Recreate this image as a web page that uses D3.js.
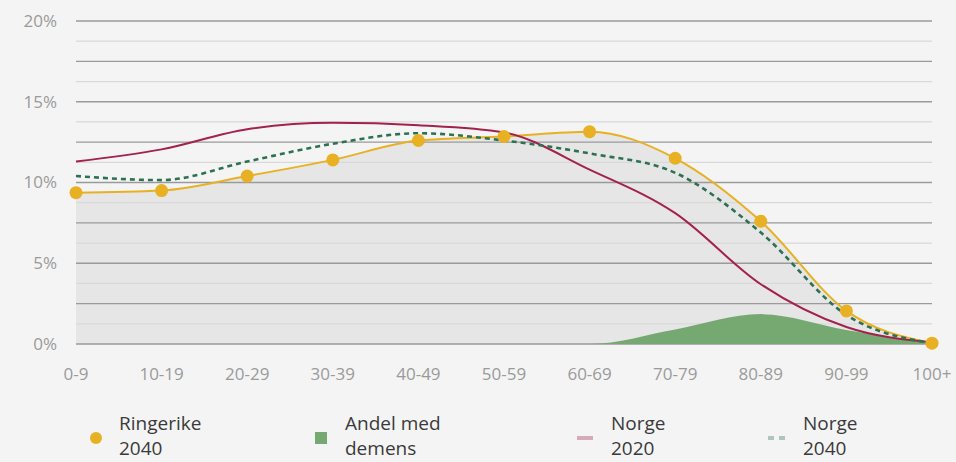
<!DOCTYPE html>
<html>
<head>
<meta charset="utf-8">
<script src="https://cdn.jsdelivr.net/npm/d3@7.9.0/dist/d3.min.js"></script>
<style>
  html, body { margin: 0; padding: 0; background: #f4f4f4; }
  svg { display: block; font-family: "Open Sans", sans-serif; }
</style>
</head>
<body>
<svg id="chart" width="956" height="462"></svg>
<script>
// Age groups and shares (%)
const categories = ['0-9', '10-19', '20-29', '30-39', '40-49', '50-59', '60-69', '70-79', '80-89', '90-99', '100+'];
const ringerike2040 = [9.37, 9.5, 10.4, 11.4, 12.6, 12.85, 13.15, 11.5, 7.6, 2.05, 0.05];
const norge2020 = [11.3, 12.05, 13.3, 13.7, 13.55, 13.1, 10.8, 8.1, 3.7, 1.05, 0.1];
const norge2040 = [10.4, 10.15, 11.3, 12.4, 13.05, 12.6, 11.8, 10.6, 6.9, 1.8, 0.05];
const demens = [0, 0, 0, 0, 0, 0, 0, 0.9, 1.85, 0.87, 0];
const yTicks = [0, 5, 10, 15, 20];
const legendItems = [
  { label: ['Ringerike', '2040'], type: 'dot' },
  { label: ['Andel med', 'demens'], type: 'square' },
  { label: ['Norge', '2020'], type: 'line' },
  { label: ['Norge', '2040'], type: 'dash' }
];

const colors = {
  ringerike: '#e8b023',
  norge2020: '#a2224c',
  norge2040: '#2c7252',
  demens: '#76a871',
  fill: '#e6e6e6'
};

const svg = d3.select('#chart');

const x = d3.scalePoint()
  .domain(categories)
  .range([76, 932]);

const y = d3.scaleLinear()
  .domain([0, 20])
  .range([344, 21]);

const xv = (d, i) => x(categories[i]);

// grey area under Ringerike
const area = d3.area()
  .x(xv)
  .y0(y(0))
  .y1(d => y(d))
  .curve(d3.curveMonotoneX);

svg.append('path')
  .attr('d', area(ringerike2040))
  .attr('fill', colors.fill);

// gridlines: dark every 2.5%, light in between
const gridVals = d3.range(0, 20.01, 1.25);
svg.append('g')
  .selectAll('line')
  .data(gridVals)
  .join('line')
  .attr('x1', 76)
  .attr('x2', 932)
  .attr('y1', d => y(d))
  .attr('y2', d => y(d))
  .attr('stroke', d => (Math.round(d * 100) % 250 === 0) ? '#9a9a9a' : '#d9d9d9')
  .attr('stroke-width', d => (Math.round(d * 100) % 250 === 0) ? 1.4 : 1.2);

// y labels
svg.append('g')
  .selectAll('text')
  .data(yTicks)
  .join('text')
  .attr('x', 57)
  .attr('y', d => y(d))
  .attr('dy', '0.35em')
  .attr('text-anchor', 'end')
  .attr('fill', '#9a9a9a')
  .attr('font-size', 17)
  .text(d => d + '%');

// x labels
svg.append('g')
  .selectAll('text')
  .data(categories)
  .join('text')
  .attr('x', d => x(d))
  .attr('y', 380)
  .attr('text-anchor', 'middle')
  .attr('fill', '#9a9a9a')
  .attr('font-size', 17)
  .text(d => d);

// dementia area
svg.append('path')
  .attr('d', area(demens))
  .attr('fill', colors.demens);

const line = d3.line()
  .x(xv)
  .y(d => y(d))
  .curve(d3.curveMonotoneX);

svg.append('path')
  .attr('d', line(ringerike2040))
  .attr('fill', 'none')
  .attr('stroke', colors.ringerike)
  .attr('stroke-width', 2);

svg.append('path')
  .attr('d', line(norge2020))
  .attr('fill', 'none')
  .attr('stroke', colors.norge2020)
  .attr('stroke-width', 2);

svg.append('path')
  .attr('d', line(norge2040))
  .attr('fill', 'none')
  .attr('stroke', colors.norge2040)
  .attr('stroke-width', 2.6)
  .attr('stroke-dasharray', '5,4');

svg.append('g')
  .selectAll('circle')
  .data(ringerike2040)
  .join('circle')
  .attr('cx', xv)
  .attr('cy', d => y(d))
  .attr('r', 6.5)
  .attr('fill', colors.ringerike);

// legend
const legendX = [96, 321, 585, 777];
const textX = [119, 345, 611, 803];
const legend = svg.append('g');
legendItems.forEach((item, i) => {
  const cx = legendX[i], cy = 438;
  if (item.type === 'dot') {
    legend.append('circle').attr('cx', cx).attr('cy', cy).attr('r', 6).attr('fill', colors.ringerike);
  } else if (item.type === 'square') {
    legend.append('rect').attr('x', cx - 6).attr('y', cy - 6).attr('width', 12).attr('height', 12).attr('fill', colors.demens);
  } else if (item.type === 'line') {
    legend.append('line').attr('x1', cx - 8).attr('x2', cx + 8).attr('y1', cy).attr('y2', cy)
      .attr('stroke', colors.norge2020).attr('stroke-width', 4).attr('opacity', 0.35);
  } else {
    legend.append('line').attr('x1', cx - 9).attr('x2', cx + 9).attr('y1', cy).attr('y2', cy)
      .attr('stroke', colors.norge2040).attr('stroke-width', 4).attr('stroke-dasharray', '6,5').attr('opacity', 0.35);
  }
  const t = legend.append('text')
    .attr('x', textX[i])
    .attr('fill', '#3a3a3a')
    .attr('font-size', 19);
  t.append('tspan').attr('x', textX[i]).attr('y', 430).text(item.label[0]);
  t.append('tspan').attr('x', textX[i]).attr('y', 455).text(item.label[1]);
});
</script>
</body>
</html>
